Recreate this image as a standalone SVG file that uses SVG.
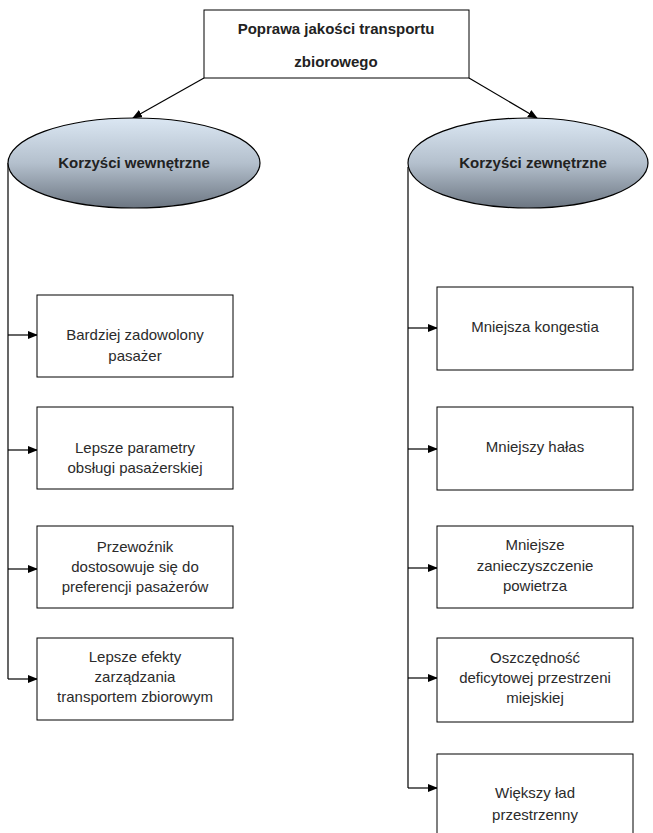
<svg xmlns="http://www.w3.org/2000/svg" width="653" height="833" viewBox="0 0 653 833">
<style>
.box{fill:#fff;stroke:#000;stroke-width:1}
.ell{fill:url(#g);stroke:#000;stroke-width:1.2}
.t{font-family:"Liberation Sans",Arial,sans-serif;font-size:15px;fill:#2b2b2b;text-anchor:middle}
.b{font-weight:bold;fill:#222}
.c{fill:none;stroke:#000;stroke-width:1.2}
</style>
<defs>
<linearGradient id="g" x1="0" y1="0" x2="0" y2="1">
<stop offset="0" stop-color="#dbe7f3"/>
<stop offset="0.5" stop-color="#b4c0cd"/>
<stop offset="1" stop-color="#6c7682"/>
</linearGradient>
<marker id="a" markerWidth="10" markerHeight="8" refX="9" refY="4" orient="auto" markerUnits="userSpaceOnUse">
<path d="M0,0 L10,4 L0,8 Z" fill="#000"/>
</marker>
</defs>
<g id="connectors">
<line class="c" x1="204" y1="78" x2="133" y2="118" marker-end="url(#a)"/>
<line class="c" x1="469" y1="78" x2="537" y2="118" marker-end="url(#a)"/>
<path class="c" d="M8,163 V679"/>
<path class="c" d="M8,335 H37" marker-end="url(#a)"/>
<path class="c" d="M8,450 H37" marker-end="url(#a)"/>
<path class="c" d="M8,569 H37" marker-end="url(#a)"/>
<path class="c" d="M8,679 H37" marker-end="url(#a)"/>
<path class="c" d="M408,167 V788"/>
<path class="c" d="M408,328 H437" marker-end="url(#a)"/>
<path class="c" d="M408,449 H437" marker-end="url(#a)"/>
<path class="c" d="M408,568 H437" marker-end="url(#a)"/>
<path class="c" d="M408,678 H437" marker-end="url(#a)"/>
<path class="c" d="M408,788 H437" marker-end="url(#a)"/>
</g>
<g id="top">
<rect class="box" x="204" y="10" width="265" height="68"/>
<text class="t b" x="336" y="34">Poprawa jakości transportu</text>
<text class="t b" x="336" y="67">zbiorowego</text>
</g>
<g id="left-ellipse">
<ellipse class="ell" cx="134" cy="163" rx="126" ry="45"/>
<text class="t b" x="134" y="168">Korzyści wewnętrzne</text>
</g>
<g id="right-ellipse">
<ellipse class="ell" cx="528" cy="163" rx="120" ry="45"/>
<text class="t b" x="533" y="168">Korzyści zewnętrzne</text>
</g>
<g id="l1">
<rect class="box" x="37" y="295" width="196" height="82"/>
<text class="t" x="135" y="340">Bardziej zadowolony</text>
<text class="t" x="135" y="361">pasażer</text>
</g>
<g id="l2">
<rect class="box" x="37" y="407" width="196" height="82"/>
<text class="t" x="135" y="453">Lepsze parametry</text>
<text class="t" x="135" y="473">obsługi pasażerskiej</text>
</g>
<g id="l3">
<rect class="box" x="37" y="526" width="196" height="82"/>
<text class="t" x="135" y="552">Przewoźnik</text>
<text class="t" x="135" y="572">dostosowuje się do</text>
<text class="t" x="135" y="592">preferencji pasażerów</text>
</g>
<g id="l4">
<rect class="box" x="37" y="638" width="196" height="82"/>
<text class="t" x="135" y="662">Lepsze efekty</text>
<text class="t" x="135" y="682">zarządzania</text>
<text class="t" x="135" y="702">transportem zbiorowym</text>
</g>
<g id="r1">
<rect class="box" x="437" y="287" width="196" height="83"/>
<text class="t" x="535" y="332">Mniejsza kongestia</text>
</g>
<g id="r2">
<rect class="box" x="437" y="407" width="196" height="83"/>
<text class="t" x="535" y="452">Mniejszy hałas</text>
</g>
<g id="r3">
<rect class="box" x="437" y="526" width="196" height="82"/>
<text class="t" x="535" y="550">Mniejsze</text>
<text class="t" x="535" y="571">zanieczyszczenie</text>
<text class="t" x="535" y="591">powietrza</text>
</g>
<g id="r4">
<rect class="box" x="437" y="638" width="196" height="84"/>
<text class="t" x="535" y="663">Oszczędność</text>
<text class="t" x="535" y="683">deficytowej przestrzeni</text>
<text class="t" x="535" y="703">miejskiej</text>
</g>
<g id="r5">
<rect class="box" x="437" y="754" width="196" height="90"/>
<text class="t" x="535" y="798">Większy ład</text>
<text class="t" x="535" y="820">przestrzenny</text>
</g>
</svg>
